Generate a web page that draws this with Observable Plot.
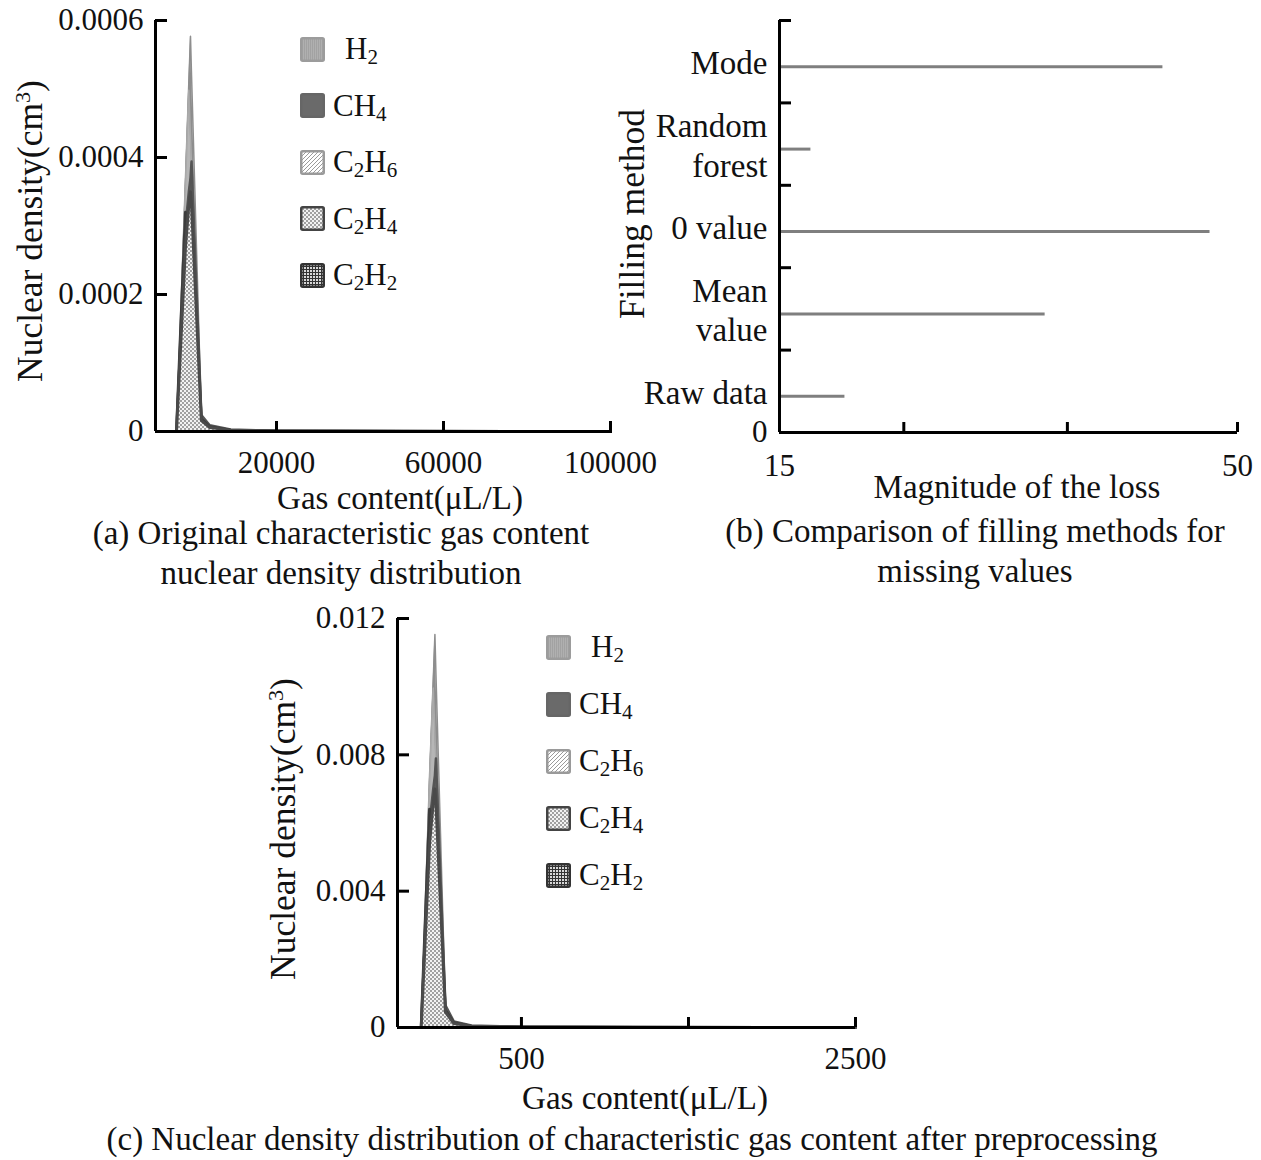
<!DOCTYPE html>
<html><head><meta charset="utf-8">
<script src="https://cdn.jsdelivr.net/npm/d3@7"></script>
<script src="https://cdn.jsdelivr.net/npm/@observablehq/plot@0.6"></script>
<style>
body{margin:0;background:#fff;}
#root{position:relative;width:1261px;height:1160px;overflow:hidden;font-family:"Liberation Serif","Times New Roman",serif;color:#111;}
.lab{position:absolute;white-space:nowrap;font-size:33px;line-height:40px;transform:translate(-50%,-50%);text-align:center;}
.rot{transform:translate(-50%,-50%) rotate(-90deg);font-size:35.5px;}
.plot{position:absolute;}
.leg{position:absolute;display:flex;align-items:center;font-size:31px;line-height:34px;}
.leg svg{margin-right:8px;}
sub{font-size:0.68em;vertical-align:-0.25em;line-height:0;}
sup{font-size:0.62em;vertical-align:0.55em;line-height:0;}
</style></head><body>
<svg width="0" height="0" style="position:absolute"><defs>
<pattern id="xhatch" patternUnits="userSpaceOnUse" width="4" height="4"><rect width="4" height="4" fill="#f2f2f2"/><rect width="2" height="2" fill="#a0a0a0"/><rect x="2" y="2" width="2" height="2" fill="#a0a0a0"/></pattern>
<pattern id="diag" patternUnits="userSpaceOnUse" width="4" height="4"><rect width="4" height="4" fill="#fff"/><path d="M-1,1L1,-1M0,4L4,0M3,5L5,3" stroke="#9a9a9a" stroke-width="1"/></pattern>
<pattern id="grid" patternUnits="userSpaceOnUse" width="3" height="3"><rect width="3" height="3" fill="#d8d8d8"/><path d="M0,0.5H3M0.5,0V3" stroke="#333" stroke-width="1"/></pattern>
<pattern id="vstripe" patternUnits="userSpaceOnUse" width="2" height="2"><rect width="2" height="2" fill="#b0b0b0"/><rect width="1" height="2" fill="#a2a2a2"/></pattern>
</defs></svg>
<div id="root"></div>
<script>
// ---------- data ----------
const gases = ["H2", "CH4", "C2H6", "C2H4", "C2H2"];

// panel (a): original gas content grid (µL/L) and kernel densities
const gasA = [-3950, -1800, -1000, -600, -350, 2000, 4000, 9000, 20000, 50000, 100000];
const aH2   = [0, 0.00037, 0.00051, 0.000577, 0.00052, 0.000022, 0.000008, 0.000003, 0.000001, 0.0000004, 0];
const aCH4  = [0, 0.00030, 0.00035, 0.00037, 0.000394, 0.000024, 0.000009, 0.000003, 0.000001, 0.0000004, 0];
const aC2H6 = [0, 0.00036, 0.000498, 0.00043, 0.00039, 0.00002, 0.000007, 0.000003, 0.000001, 0.0000003, 0];
const aC2H4 = [0, 0.00027, 0.00033, 0.00035, 0.00033, 0.000016, 0.000006, 0.000002, 0.0000008, 0.0000002, 0];
const aC2H2 = [0, 0.00032, 0.00030, 0.00027, 0.00025, 0.000018, 0.000007, 0.000002, 0.0000008, 0.0000002, 0];
const ticksAx = [20000, 60000, 100000];
const ticksAy = [0, 0.0002, 0.0004, 0.0006];

// panel (b): filling methods and loss
const methods = ["Mode", "Random\nforest", "0 value", "Mean\nvalue", "Raw data"];
const loss = [44.3, 17.4, 47.9, 35.3, 20.0];
const ticksBx = [15, 24.5, 37, 50];
const labelsBx = [15, 50];
const ticksBy = [1, 2, 3, 4, 5];

// panel (c): preprocessed gas content grid (µL/L) and kernel densities
const gasC = [-100, -50, -28, -18, -12, 45, 95, 200, 500, 1200, 2500];
const cH2   = [0, 0.0074, 0.0102, 0.01153, 0.0104, 0.0006, 0.00017, 0.00006, 0.00002, 0.000008, 0];
const cCH4  = [0, 0.0060, 0.0070, 0.0074, 0.00789, 0.00065, 0.00018, 0.00006, 0.00002, 0.000008, 0];
const cC2H6 = [0, 0.0072, 0.00996, 0.0086, 0.0078, 0.00055, 0.00015, 0.00006, 0.00002, 0.000006, 0];
const cC2H4 = [0, 0.0054, 0.0066, 0.0070, 0.0066, 0.00045, 0.00012, 0.00004, 0.000016, 0.000004, 0];
const cC2H2 = [0, 0.0064, 0.0060, 0.0054, 0.0050, 0.0005, 0.00014, 0.00004, 0.000016, 0.000004, 0];
const ticksCx = [500, 1500, 2500];
const labelsCx = [500, 2500];
const ticksCy = [0, 0.004, 0.008, 0.012];

// ---------- styles ----------
const FONT = '"Liberation Serif","Times New Roman",serif';
const gasStyle = {
  H2:   {fill: "#8e8e8e", stroke: "#8e8e8e", sw: 1.5, swatch: "url(#vstripe)", border: "#9c9c9c"},
  C2H6: {fill: "#b6b6b6", stroke: "#a9a9a9", sw: 1.5, swatch: "url(#diag)", border: "#9a9a9a"},
  CH4:  {fill: "#5f5f5f", stroke: "#555", sw: 2.5, swatch: "#6a6a6a", border: "#666"},
  C2H2: {fill: "url(#grid)", stroke: "#3c3c3c", sw: 3, swatch: "url(#grid)", border: "#333"},
  C2H4: {fill: "url(#xhatch)", stroke: "#4a4a4a", sw: 3, swatch: "url(#xhatch)", border: "#444"}
};
const drawOrder = ["H2", "C2H6", "CH4", "C2H2", "C2H4"];

const root = document.getElementById("root");
function put(el, left, top) { el.classList.add("plot"); el.style.left = left + "px"; el.style.top = top + "px"; root.appendChild(el); }
function label(html, cx, cy, rotate) {
  const d = document.createElement("div");
  d.className = "lab" + (rotate ? " rot" : "");
  d.innerHTML = html; d.style.left = cx + "px"; d.style.top = cy + "px";
  root.appendChild(d);
}
const chem = s => s.replace(/(\d)/g, "<sub>$1</sub>");
function legend(left, top, step, h2shift) {
  gases.forEach((g, i) => {
    const st = gasStyle[g];
    const d = document.createElement("div");
    d.className = "leg";
    d.style.left = left + "px"; d.style.top = (top + i * step) + "px";
    d.innerHTML = `<svg width="25" height="25"><rect x="1.25" y="1.25" width="22.5" height="22.5" rx="1.5" fill="${st.swatch}" stroke="${st.border}" stroke-width="2.5"/></svg><span style="margin-left:${g === "H2" ? h2shift : 0}px">${chem(g)}</span>`;
    root.appendChild(d);
  });
}

const fmt = d => String(d);
function gasPanel({xs, series, xDomain, yDomain, xTicks, xLabels, yTicks, width, height, mL, mR, mT, mB}) {
  const marks = [];
  for (const g of drawOrder) {
    const st = gasStyle[g];
    const data = xs.map((x, i) => ({x, y: series[g][i]}));
    marks.push(Plot.areaY(data, {x: "x", y: "y", fill: st.fill}));
    marks.push(Plot.lineY(data, {x: "x", y: "y", stroke: st.stroke, strokeWidth: st.sw, strokeLinejoin: "round"}));
  }
  marks.push(
    Plot.axisY(yTicks.filter(d => d > 0), {tickSize: -12, tickFormat: () => "", strokeWidth: 3, stroke: "#000", label: null}),
    Plot.axisY(yTicks, {tickSize: 0, tickPadding: 12, fontSize: 31, fill: "#111", tickFormat: fmt, label: null}),
    Plot.axisX(xTicks, {tickSize: -10, tickFormat: () => "", strokeWidth: 3, stroke: "#000", label: null}),
    Plot.axisX(xLabels, {tickSize: 0, tickPadding: 19, fontSize: 31, fill: "#111", tickFormat: fmt, label: null}),
    Plot.ruleX([xDomain[0]], {stroke: "#000", strokeWidth: 3}),
    Plot.ruleY([0], {stroke: "#000", strokeWidth: 3})
  );
  return Plot.plot({
    width, height, marginLeft: mL, marginRight: mR, marginTop: mT, marginBottom: mB,
    x: {domain: xDomain, axis: null}, y: {domain: yDomain, axis: null},
    style: {fontFamily: FONT, background: "transparent", overflow: "visible", color: "#111"},
    marks
  });
}

// ---------- panel (a) ----------
put(gasPanel({
  xs: gasA, series: {H2: aH2, CH4: aCH4, C2H6: aC2H6, C2H4: aC2H4, C2H2: aC2H2},
  xDomain: [-8982, 100480], yDomain: [0, 0.0006], xTicks: ticksAx, xLabels: ticksAx, yTicks: ticksAy,
  width: 640, height: 520, mL: 155, mR: 28, mT: 20, mB: 89
}), 0, 0);
legend(300, 32, 56.5, 12);
label("Nuclear density(cm<sup>3</sup>)", 30, 231, true);
label("Gas content(μL/L)", 400, 498);
label("(a) Original characteristic gas content<br>nuclear density distribution", 341, 553);

// ---------- panel (b) ----------
const plotB = Plot.plot({
  width: 641, height: 520, marginLeft: 159, marginRight: 24, marginTop: 20, marginBottom: 88,
  x: {domain: [15, 50], axis: null}, y: {domain: [0, 5], axis: null},
  style: {fontFamily: FONT, background: "transparent", overflow: "visible", color: "#111"},
  marks: [
    Plot.ruleY(methods, {y: (d, i) => 4.5 - i, x1: 15, x2: (d, i) => loss[i], stroke: "#7f7f7f", strokeWidth: 3, dy: 5}),
    Plot.text(methods, {x: 15, y: (d, i) => 4.5 - i, text: d => d, textAnchor: "end", dx: -12, fontSize: 33, lineHeight: 1.2, fill: "#111"}),
    Plot.axisY(ticksBy, {tickSize: -12, tickFormat: () => "", strokeWidth: 3, stroke: "#000", label: null}),
    Plot.axisY([0], {tickSize: 0, tickPadding: 12, fontSize: 31, fill: "#111", tickFormat: fmt, label: null}),
    Plot.axisX(ticksBx, {tickSize: -10, tickFormat: () => "", strokeWidth: 3, stroke: "#000", label: null}),
    Plot.axisX(labelsBx, {tickSize: 0, tickPadding: 21, fontSize: 31, fill: "#111", tickFormat: fmt, label: null}),
    Plot.ruleX([15], {stroke: "#000", strokeWidth: 3}),
    Plot.ruleY([0], {stroke: "#000", strokeWidth: 3})
  ]
});
put(plotB, 620, 0);
label("Filling method", 632, 214, true);
label("Magnitude of the loss", 1017, 487);
label("(b) Comparison of filling methods for<br>missing values", 975, 551);

// ---------- panel (c) ----------
put(gasPanel({
  xs: gasC, series: {H2: cH2, CH4: cCH4, C2H6: cC2H6, C2H4: cC2H4, C2H2: cC2H2},
  xDomain: [-242, 2500], yDomain: [0, 0.012], xTicks: ticksCx, xLabels: labelsCx, yTicks: ticksCy,
  width: 640, height: 520, mL: 157, mR: 25, mT: 18, mB: 93
}), 240, 600);
legend(546, 630, 57, 12);
label("Nuclear density(cm<sup>3</sup>)", 283, 829, true);
label("Gas content(μL/L)", 645, 1098);
label("(c) Nuclear density distribution of characteristic gas content after preprocessing", 632, 1139);
</script>
</body></html>
